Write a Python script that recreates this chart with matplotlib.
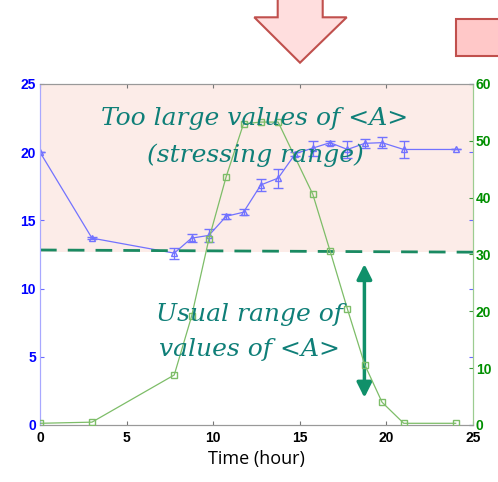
import matplotlib
matplotlib.use("Agg")
import matplotlib.pyplot as plt
from matplotlib.patches import Polygon, Rectangle

# <A> (left axis, triangles with error bars)
T_A = [0, 3, 7.75, 8.75, 9.75, 10.75, 11.75, 12.75, 13.75, 14.75, 15.75, 16.75, 17.75, 18.75, 19.75, 21, 24]
A = [20.0, 13.7, 12.6, 13.7, 13.9, 15.3, 15.6, 17.6, 18.1, 19.9, 20.3, 20.7, 20.2, 20.65, 20.7, 20.2, 20.2]
A_ERR = [0, 0.05, 0.4, 0.3, 0.5, 0.2, 0.2, 0.45, 0.7, 0.15, 0.55, 0.15, 0.6, 0.35, 0.4, 0.65, 0]
# second quantity (right axis, squares)
T_B = [0, 3, 7.75, 8.75, 9.75, 10.75, 11.75, 12.75, 13.75, 15.75, 16.75, 17.75, 18.75, 19.75, 21, 24]
B = [0.3, 0.5, 8.8, 19.1, 32.7, 43.7, 53.0, 53.3, 53.3, 40.6, 30.6, 20.4, 10.6, 4.0, 0.3, 0.3]
# threshold (left-axis units) at both ends of the x range
THR_X = [0, 25]
THR_Y = [12.83, 12.67]
XTICKS = [0, 5, 10, 15, 20, 25]
YTICKS_L = [0, 5, 10, 15, 20, 25]
YTICKS_R = [0, 10, 20, 30, 40, 50, 60]

W, H = 498, 482
fig = plt.figure(figsize=(W / 100, H / 100), dpi=100)
ax = fig.add_axes([40 / W, 1 - 425 / H, 433 / W, 341 / H])
ax2 = ax.twinx()

BLUE, GREEN, TEAL = "#7272ff", "#7dbd68", "#0f7f78"

ax.axhspan(THR_Y[1], 25, color="#fcece8", zorder=0, lw=0)
ax.errorbar(T_A, A, yerr=A_ERR, color=BLUE, marker="^", mfc="none", ms=5, lw=0.9,
            elinewidth=0.9, capsize=3.5, zorder=3)
ax.plot(THR_X, THR_Y, "--", color="#1a8a62", lw=2, dashes=(6, 4), zorder=4)
ax2.plot(T_B, B, color=GREEN, marker="s", mfc="none", ms=5, lw=0.9, zorder=3)

ax.set_xlim(0, 25)
ax.set_ylim(0, 25)
ax2.set_ylim(0, 60)
ax.set_xticks(XTICKS)
ax.set_yticks(YTICKS_L)
ax2.set_yticks(YTICKS_R)

ax.tick_params(axis="x", direction="in", length=3, color="#777", top=True,
               labelsize=10, pad=4)
ax.tick_params(axis="y", direction="in", length=3, color="#6b6bff", right=True,
               labelsize=10, labelcolor="#0000ff", pad=3)
ax2.tick_params(axis="y", direction="in", length=3, color="#3a9a3a",
                labelsize=10, labelcolor="#008f00", pad=2)
for lab in ax.get_xticklabels() + ax.get_yticklabels() + ax2.get_yticklabels():
    lab.set_fontweight("bold")
    lab.set_family("Liberation Sans")

for a in (ax, ax2):
    a.spines["top"].set_color("#999")
    a.spines["bottom"].set_color("#999")
    a.spines["left"].set_color("#a8a8ff")
    a.spines["right"].set_color("#9ccc90")

ax.set_xlabel("Time (hour)", fontsize=13, family="Open Sans", labelpad=4)

# two-headed arrow marking the usual range
ax.annotate("", xy=(18.73, 2.0), xytext=(18.73, 11.8),
            arrowprops=dict(arrowstyle="<|-|>,head_length=0.9,head_width=0.45",
                            color="#10906a", lw=2.5, shrinkA=0, shrinkB=0), zorder=6)

tk = dict(ha="center", va="center", color=TEAL, style="italic",
          family="DejaVu Serif", fontsize=18, linespacing=1.7, zorder=7)
fig.text(255 / W, 1 - 137 / H, "Too large values of <A>\n(stressing range)", **tk)
fig.text(249 / W, 1 - 332 / H, "Usual range of\nvalues of <A>", **tk)

# slide decorations above the chart
px = lambda x, y: (x / W, 1 - y / H)
arrow = [px(277.7, -5), px(322.7, -5), px(322.7, 17.3), px(346.7, 17.3),
         px(300, 62.7), px(254.3, 17.3), px(277.7, 17.3)]
fig.patches.append(Polygon(arrow, closed=True, transform=fig.transFigure,
                           fc="#ffdede", ec="#c0504d", lw=1.5))
fig.patches.append(Rectangle(px(456, 56), 60 / W, 36.7 / H, transform=fig.transFigure,
                             fc="#ffc8c8", ec="#c0504d", lw=1.5))

fig.savefig("out.png", dpi=100)
